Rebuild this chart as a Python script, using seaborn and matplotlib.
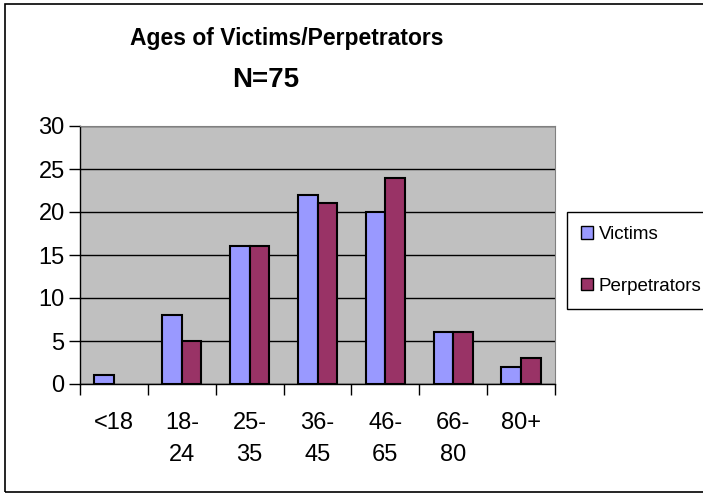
import matplotlib
matplotlib.use("Agg")
import matplotlib.pyplot as plt
import seaborn as sns
import pandas as pd
from matplotlib.patches import Rectangle, Patch

categories = ["<18", "18-\n24", "25-\n35", "36-\n45", "46-\n65", "66-\n80", "80+"]
victims = [1, 8, 16, 22, 20, 6, 2]
perpetrators = [0, 5, 16, 21, 24, 6, 3]
series = ["Victims", "Perpetrators"]
colors = ["#9999FF", "#993366"]

df = pd.DataFrame({
    "cat": categories * 2,
    "val": victims + perpetrators,
    "series": [series[0]] * len(categories) + [series[1]] * len(categories),
})

sns.set_style("white")
plt.rcParams["font.family"] = ["Liberation Sans", "DejaVu Sans"]
plt.rcParams["text.color"] = "black"
plt.rcParams["xtick.color"] = "black"
plt.rcParams["ytick.color"] = "black"

fig = plt.figure(figsize=(7.03, 4.96), dpi=100)
ax = fig.add_axes([80 / 703, 1 - 384 / 496, 475 / 703, 258 / 496])
ax.set_facecolor("#C0C0C0")

sns.barplot(data=df, x="cat", y="val", hue="series", palette=colors,
            width=0.58, edgecolor="black", linewidth=1.5, ax=ax, legend=False,
            saturation=1)
for p in ax.patches:
    if p.get_height() == 0:
        p.set_visible(False)

ax.set_ylim(0, 30)
ax.set_xlim(-0.5, len(categories) - 0.5)
ax.set_yticks(range(0, 31, 5))
ax.yaxis.grid(True, color="black", linewidth=1)
ax.set_axisbelow(True)
ax.tick_params(axis="y", direction="out", length=8, width=1, color="black",
               labelsize=17, pad=3, left=True, labelcolor="black")
ax.set_xticks([i + 0.5 for i in range(-1, len(categories))])
ax.set_xticklabels([])
ax.set_xticks(range(len(categories)), minor=True)
ax.set_xticklabels(categories, minor=True, fontsize=17, linespacing=1.6,
                   color="black")
ax.tick_params(axis="x", which="major", direction="out", length=8, width=1,
               color="black", bottom=True)
ax.tick_params(axis="x", which="minor", length=0, pad=20)
ax.set_xlabel("")
ax.set_ylabel("")
ax.spines["left"].set_color("black")
ax.spines["bottom"].set_color("black")
ax.spines["left"].set_linewidth(1)
ax.spines["bottom"].set_linewidth(1)
ax.spines["top"].set_visible(True)
ax.spines["top"].set_color("#808080")
ax.spines["right"].set_visible(True)
ax.spines["right"].set_color("#808080")

fig.text(287 / 703, 1 - 45 / 496, "Ages of Victims/Perpetrators",
         ha="center", va="baseline", fontsize=16.5, fontweight="bold",
         color="black")
fig.text(266 / 703, 1 - 87 / 496, "N=75",
         ha="center", va="baseline", fontsize=20, fontweight="bold",
         color="black")

handles = [Patch(facecolor=c, edgecolor="black", linewidth=1) for c in colors]
leg = fig.legend(handles, series, loc="upper left",
                 bbox_to_anchor=(567 / 703, 1 - 212 / 496),
                 frameon=True, fontsize=13.5, handlelength=0.65, handleheight=0.65,
                 handletextpad=0.3, labelspacing=1.85, borderpad=0.75,
                 fancybox=False, edgecolor="black", borderaxespad=0,
                 facecolor="white", framealpha=1)
leg.get_frame().set_linewidth(1)

fig.patches.append(Rectangle((5 / 703, 4 / 496), 1.2, 1 - 8 / 496,
                             transform=fig.transFigure, fill=False,
                             edgecolor="black", linewidth=1.2))

fig.savefig("out.png", dpi=100)
